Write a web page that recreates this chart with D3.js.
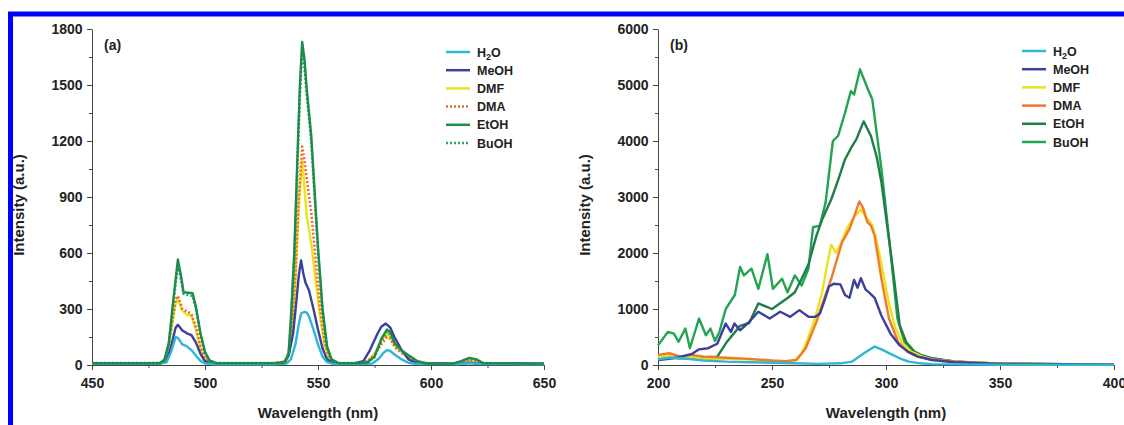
<!DOCTYPE html>
<html>
<head>
<meta charset="utf-8">
<script src="https://cdn.jsdelivr.net/npm/d3@7"></script>
<style>
  body { margin: 0; background: #fff; }
  svg text { font-family: "Liberation Sans", Arial, sans-serif; font-weight: bold; fill: #222; }
  .axis path, .axis line { stroke: #444; }
</style>
</head>
<body>
<div id="chart"></div>
<script>
// ---------- data, panel (a): 450-650 nm ----------
var seriesNames = ['H2O', 'MeOH', 'DMF', 'DMA', 'EtOH', 'BuOH'];

var aH2O = [[450,8],[480,8],[483,15],[485,70],[487,150],[488,145],[490,110],[492,100],[494,80],[496,50],[498,22],[500,8],[505,4],[530,4],[536,8],[538,30],[540,110],[541.5,220],[542.5,275],[544,285],[545,280],[546,260],[548,190],[550,110],[552,45],[554,15],[557,5],[568,5],[574,8],[577,35],[579,65],[580.5,80],[582,75],[584,55],[587,30],[590,12],[594,5],[612,5],[617,10],[622,5],[650,4]];
var aMeOH = [[450,8],[480,8],[483,20],[485,100],[487,200],[488,215],[490,185],[492,170],[494,160],[496,120],[498,60],[500,20],[503,6],[530,6],[535,15],[537,50],[539,170],[540.5,350],[541.5,480],[542.5,560],[543.5,490],[544.5,440],[546,400],[548,300],[550,190],[552,90],[554,30],[557,8],[566,8],[570,20],[573,80],[576,160],[578,205],[580,222],[582,200],[584,145],[587,80],[590,30],[594,8],[612,5],[617,12],[622,5],[650,4]];
var aDMF = [[450,8],[480,10],[483,40],[485,180],[487,330],[488,350],[490,290],[492,270],[494,260],[496,190],[498,90],[500,30],[503,8],[530,8],[536,20],[538,120],[540,450],[541.5,850],[543,1100],[544,950],[545,800],[547,650],[549,450],[551,250],[553,100],[555,35],[558,10],[568,8],[572,20],[575,60],[578,130],[580.5,170],[582,150],[584,100],[587,70],[590,45],[594,15],[600,8],[612,8],[617,25],[622,8],[650,5]];
var aDMA = [[450,8],[480,10],[483,40],[485,190],[487,350],[488,370],[490,300],[492,285],[494,275],[496,200],[498,100],[500,35],[503,8],[530,8],[536,20],[538,130],[540,480],[541.5,900],[543,1170],[544,1100],[545,1000],[547,820],[549,560],[551,300],[553,120],[555,40],[558,10],[568,8],[572,20],[575,55],[578,110],[580.5,150],[582,140],[584,95],[587,65],[590,42],[594,15],[600,8],[612,8],[617,28],[622,8],[650,5]];
var aEtOH = [[450,10],[480,10],[482,25],[484,120],[486,350],[488,565],[489.5,470],[490.5,390],[494.5,385],[496,310],[498,170],[500,70],[502,25],[505,10],[530,10],[535,12],[537,60],[538,250],[539.5,600],[541,1150],[542,1500],[543,1730],[544,1640],[545,1480],[547,1230],[550,630],[552,300],[554,100],[556,30],[559,10],[568,10],[572,15],[575,45],[578,140],[580.5,190],[582,175],[584,115],[587,78],[590,52],[594,20],[598,8],[610,8],[613,20],[617,38],[620,30],[623,10],[650,8]];
var aBuOH = [[450,10],[480,10],[482,22],[484,110],[486,330],[488,540],[489.5,450],[490.5,380],[494.5,370],[496,300],[498,160],[500,65],[502,22],[505,10],[530,10],[535,12],[537,55],[538,230],[539.5,570],[541,1100],[542,1450],[543,1690],[544,1600],[545,1450],[547,1200],[550,610],[552,290],[554,95],[556,28],[559,10],[568,10],[572,15],[575,42],[578,130],[580.5,180],[582,165],[584,110],[587,75],[590,50],[594,20],[598,8],[610,8],[613,18],[617,34],[620,28],[623,10],[650,8]];

// ---------- data, panel (b): 200-400 nm ----------
var bH2O = [[200,100],[205,130],[210,120],[215,100],[220,80],[230,60],[240,50],[250,40],[260,30],[270,20],[280,30],[285,60],[290,200],[295,330],[298,280],[302,200],[306,120],[310,60],[315,30],[320,15],[350,5],[400,2]];
var bMeOH = [[200,90],[205,110],[210,150],[215,200],[218,280],[222,300],[226,380],[229.7,740],[232,590],[233.5,740],[236,620],[240,770],[244,950],[249,830],[253.6,950],[258,860],[262,980],[266,860],[269,860],[271,920],[273,1150],[275,1400],[277,1450],[280,1440],[282,1250],[284,1200],[286,1520],[287.5,1380],[289,1550],[291,1350],[293,1280],[295,1200],[298,880],[302,560],[306,350],[310,230],[314,150],[320,90],[330,50],[350,20],[400,5]];
var bDMF = [[200,150],[205,170],[210,130],[215,140],[220,110],[230,110],[240,100],[250,70],[256,60],[260,90],[263,200],[266,500],[269,850],[272,1300],[274,1750],[276,2150],[278,2000],[280,2150],[283,2450],[286,2650],[289,2780],[291,2650],[294,2500],[296,2200],[298,1800],[301,1150],[304,680],[307,400],[311,240],[316,150],[320,100],[330,60],[350,25],[400,5]];
var bDMA = [[200,180],[205,210],[210,150],[215,180],[220,150],[230,130],[240,110],[250,80],[256,70],[260.8,90],[264.8,300],[269.5,770],[273,1200],[276,1540],[280.7,2190],[284,2430],[286,2650],[288.3,2920],[290,2800],[291.8,2550],[293.4,2490],[295,2310],[298,1540],[301.3,830],[305.3,415],[309.3,240],[314,150],[320,100],[330,60],[350,25],[400,5]];
var bEtOH = [[200,100],[205,130],[210,120],[215,130],[220,140],[226,150],[230,400],[234,600],[236,700],[240,750],[244,1100],[250,1000],[257,1200],[260,1300],[263,1540],[266,1800],[269.5,2310],[272,2600],[276,2960],[279,3300],[282,3670],[285,3900],[287,4030],[290.2,4350],[293.4,4090],[296,3700],[298,3260],[303,1720],[306,710],[309,400],[312.5,240],[316,170],[320,120],[330,65],[350,25],[400,5]];
var bBuOH = [[200,350],[204.3,590],[207,560],[209,415],[212,650],[214,300],[218,830],[221,530],[223,650],[225,430],[227,600],[229.7,1000],[233.7,1250],[236,1750],[237.7,1600],[241,1720],[244,1360],[248,1980],[250.4,1360],[254.4,1540],[256.8,1300],[260,1600],[263,1420],[266,1720],[268,2460],[271,2490],[273.5,2900],[276.7,4000],[279,4090],[282,4500],[284.6,4890],[286,4830],[288.6,5280],[291.8,4950],[294,4740],[298,3500],[302,2020],[305,830],[308.5,360],[314,180],[320,120],[330,60],[350,25],[400,5]];

var aTicksY = [0, 300, 600, 900, 1200, 1500, 1800];
var aTicksX = [450, 500, 550, 600, 650];
var bTicksY = [0, 1000, 2000, 3000, 4000, 5000, 6000];
var bTicksX = [200, 250, 300, 350, 400];

var colorsA = {H2O: '#2fb6d6', MeOH: '#3b3f9e', DMF: '#ece21c', DMA: '#ee6a35', EtOH: '#1e8a4c', BuOH: '#2ea862'};
var colorsB = {H2O: '#2fb6d6', MeOH: '#3b3f9e', DMF: '#ece21c', DMA: '#ef7a2e', EtOH: '#1f7e48', BuOH: '#22a452'};

var svg = d3.select('#chart').append('svg')
  .attr('width', 1124)
  .attr('height', 425);

// blue frame
svg.append('line').attr('x1', 8).attr('x2', 1124).attr('y1', 14).attr('y2', 14)
  .attr('stroke', '#0000ff').attr('stroke-width', 5);
svg.append('line').attr('x1', 10.5).attr('x2', 10.5).attr('y1', 12).attr('y2', 425)
  .attr('stroke', '#0000ff').attr('stroke-width', 5);

function drawPanel(opt) {
  var x = d3.scaleLinear().domain(opt.xDomain).range([opt.left, opt.right]);
  var y = d3.scaleLinear().domain(opt.yDomain).range([365, 29]);

  // minor ticks
  svg.append('g').attr('class', 'axis').attr('transform', 'translate(0,365)')
    .call(d3.axisBottom(x).tickValues(opt.xMinor).tickSize(3).tickFormat(''))
    .select('.domain').remove();
  svg.append('g').attr('class', 'axis').attr('transform', 'translate(' + opt.left + ',0)')
    .call(d3.axisLeft(y).tickValues(opt.yMinor).tickSize(3).tickFormat(''))
    .select('.domain').remove();

  var gx = svg.append('g').attr('class', 'axis').attr('transform', 'translate(0,365)')
    .call(d3.axisBottom(x).tickValues(opt.xTicks).tickSize(5).tickSizeOuter(0).tickFormat(d3.format('d')));
  gx.selectAll('text').style('font-size', '14px').attr('dy', '1.1em');
  var gy = svg.append('g').attr('class', 'axis').attr('transform', 'translate(' + opt.left + ',0)')
    .call(d3.axisLeft(y).tickValues(opt.yTicks).tickSize(5).tickSizeOuter(0).tickFormat(d3.format('d')));
  gy.selectAll('text').style('font-size', '14px').attr('dx', '-0.1em');

  var line = d3.line().x(function(d) { return x(d[0]); }).y(function(d) { return y(d[1]); });

  var order = ['BuOH', 'EtOH', 'DMF', 'DMA', 'MeOH', 'H2O'];
  if (opt.dashed) order = ['DMF', 'DMA', 'MeOH', 'H2O', 'BuOH', 'EtOH'];
  order.forEach(function(name) {
    var dashed = opt.dashed && opt.dashed.indexOf(name) >= 0;
    svg.append('path')
      .datum(opt.data[name])
      .attr('d', line)
      .attr('fill', 'none')
      .attr('stroke', opt.colors[name])
      .attr('stroke-width', dashed ? 2.6 : 2.4)
      .attr('stroke-dasharray', dashed ? '2,2' : null)
      .attr('stroke-linejoin', 'round');
  });

  // axis titles
  svg.append('text')
    .attr('transform', 'translate(' + opt.yTitleX + ',205) rotate(-90)')
    .attr('text-anchor', 'middle').style('font-size', '15px')
    .text('Intensity (a.u.)');
  svg.append('text')
    .attr('x', (opt.left + opt.right) / 2).attr('y', 418)
    .attr('text-anchor', 'middle').style('font-size', '15px')
    .text('Wavelength (nm)');

  svg.append('text').attr('x', opt.left + 12).attr('y', 50)
    .style('font-size', '14px').text(opt.label);

  // legend
  var lg = svg.append('g').attr('transform', 'translate(' + opt.legendX + ',' + opt.legendY + ')');
  seriesNames.forEach(function(name, i) {
    var row = lg.append('g').attr('transform', 'translate(0,' + (i * 18.2) + ')');
    var dashed = opt.dashed && opt.dashed.indexOf(name) >= 0;
    row.append('line').attr('x1', 0).attr('x2', 24).attr('y1', 0).attr('y2', 0)
      .attr('stroke', opt.colors[name]).attr('stroke-width', 2.5)
      .attr('stroke-dasharray', dashed ? '2,2' : null);
    var t = row.append('text').attr('x', 31).attr('y', 4.5).style('font-size', '12.5px');
    if (name === 'H2O') {
      t.append('tspan').text('H');
      t.append('tspan').attr('dy', 3).style('font-size', '9px').text('2');
      t.append('tspan').attr('dy', -3).text('O');
    } else {
      t.text(name);
    }
  });
}

drawPanel({
  left: 92, right: 544,
  xDomain: [450, 650], yDomain: [0, 1800],
  xTicks: aTicksX, yTicks: aTicksY,
  xMinor: [475, 525, 575, 625], yMinor: [150, 450, 750, 1050, 1350, 1650],
  data: {H2O: aH2O, MeOH: aMeOH, DMF: aDMF, DMA: aDMA, EtOH: aEtOH, BuOH: aBuOH},
  colors: colorsA, dashed: ['DMA', 'BuOH'],
  yTitleX: 24, label: '(a)', legendX: 446, legendY: 52
});

drawPanel({
  left: 658, right: 1114,
  xDomain: [200, 400], yDomain: [0, 6000],
  xTicks: bTicksX, yTicks: bTicksY,
  xMinor: [225, 275, 325, 375], yMinor: [500, 1500, 2500, 3500, 4500, 5500],
  data: {H2O: bH2O, MeOH: bMeOH, DMF: bDMF, DMA: bDMA, EtOH: bEtOH, BuOH: bBuOH},
  colors: colorsB, dashed: null,
  yTitleX: 590, label: '(b)', legendX: 1022, legendY: 51
});
</script>
</body>
</html>
